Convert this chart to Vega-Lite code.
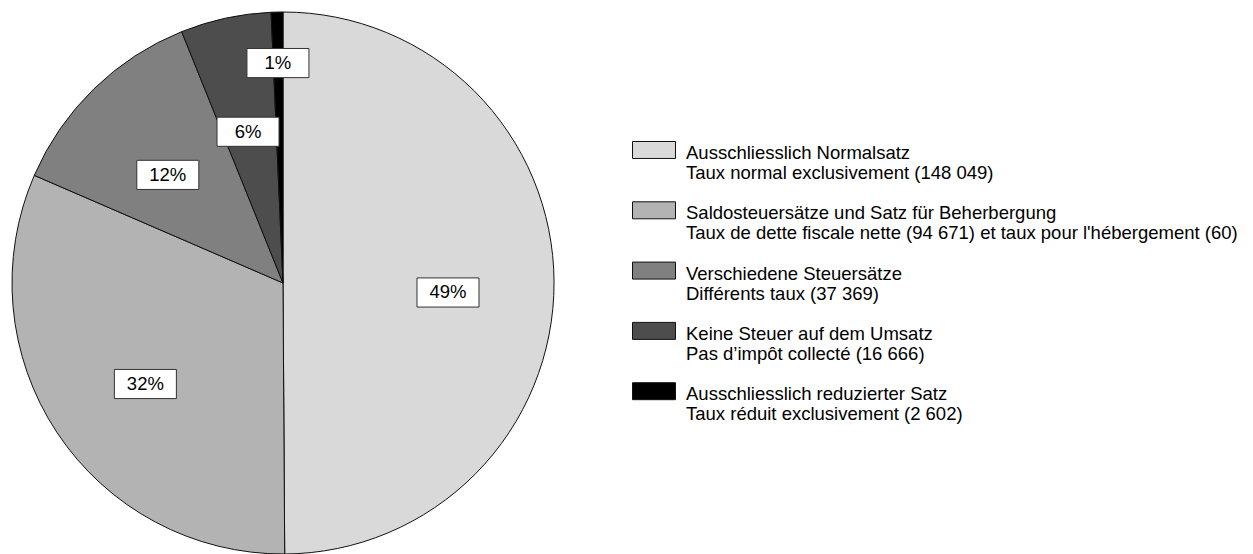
{
  "$schema": "https://vega.github.io/schema/vega-lite/v6.json",
  "width": 542,
  "height": 542,
  "autosize": "none",
  "padding": {"left": 12, "top": 12, "right": 699, "bottom": 0},
  "background": "white",
  "data": {
    "values": [
      {"order": 1, "key": "Ausschliesslich Normalsatz|Taux normal exclusivement (148 049)", "count": 148049, "share": 49.9, "pct": "49%"},
      {"order": 2, "key": "Saldosteuersätze und Satz für Beherbergung|Taux de dette fiscale nette (94 671) et taux pour l'hébergement (60)", "count": 94731, "share": 31.6, "pct": "32%"},
      {"order": 3, "key": "Verschiedene Steuersätze|Différents taux (37 369)", "count": 37369, "share": 12.4, "pct": "12%"},
      {"order": 4, "key": "Keine Steuer auf dem Umsatz|Pas d’impôt collecté (16 666)", "count": 16666, "share": 5.4, "pct": "6%"},
      {"order": 5, "key": "Ausschliesslich reduzierter Satz|Taux réduit exclusivement (2 602)", "count": 2602, "share": 0.7, "pct": "1%"}
    ]
  },
  "layer": [
    {
      "mark": {"type": "arc", "stroke": "#111111", "strokeWidth": 1, "outerRadius": 271},
      "encoding": {
        "theta": {"field": "share", "type": "quantitative", "stack": true},
        "order": {"field": "order", "type": "quantitative"},
        "color": {
          "field": "key",
          "type": "nominal",
          "scale": {
            "domain": [
              "Ausschliesslich Normalsatz|Taux normal exclusivement (148 049)",
              "Saldosteuersätze und Satz für Beherbergung|Taux de dette fiscale nette (94 671) et taux pour l'hébergement (60)",
              "Verschiedene Steuersätze|Différents taux (37 369)",
              "Keine Steuer auf dem Umsatz|Pas d’impôt collecté (16 666)",
              "Ausschliesslich reduzierter Satz|Taux réduit exclusivement (2 602)"
            ],
            "range": ["#d9d9d9", "#b3b3b3", "#808080", "#4d4d4d", "#000000"]
          },
          "legend": {
            "orient": "none",
            "legendX": 620,
            "legendY": 119,
            "title": null,
            "padding": 0,
            "symbolType": "M-1,-0.535H1V0.255H-1Z",
            "symbolSize": 1849,
            "symbolStrokeColor": "#111111",
            "symbolStrokeWidth": 1,
            "symbolOpacity": 1,
            "labelFont": "Liberation Sans",
            "labelFontSize": 18.5,
            "labelColor": "#000000",
            "labelLimit": 0,
            "labelOffset": 10,
            "rowPadding": 8.3,
            "labelExpr": "split(datum.label, '|')"
          }
        }
      }
    },
    {
      "transform": [
        {"joinaggregate": [{"op": "sum", "field": "share", "as": "total"}]},
        {"window": [{"op": "sum", "field": "share", "as": "cum"}], "sort": [{"field": "order"}], "frame": [null, 0]},
        {"calculate": "(datum.cum - datum.share / 2) / datum.total * 2 * PI", "as": "mid"},
        {"calculate": "datum.share / datum.total < 0.03 ? 230 : 165", "as": "r"},
        {"calculate": "datum.r * sin(datum.mid)", "as": "lx"},
        {"calculate": "datum.r * cos(datum.mid) - 10", "as": "ly"}
      ],
      "layer": [
        {
          "mark": {"type": "point", "shape": "M-1,-0.47H1V0.47H-1Z", "size": 3844, "filled": true, "fill": "white", "stroke": "#333333", "strokeWidth": 1, "opacity": 1},
          "encoding": {
            "x": {"field": "lx", "type": "quantitative", "scale": {"domain": [-271, 271], "nice": false, "zero": false}, "axis": null},
            "y": {"field": "ly", "type": "quantitative", "scale": {"domain": [-271, 271], "nice": false, "zero": false}, "axis": null}
          }
        },
        {
          "mark": {"type": "text", "font": "Liberation Sans", "fontSize": 18.5, "color": "#000000", "baseline": "middle", "align": "center"},
          "encoding": {
            "x": {"field": "lx", "type": "quantitative"},
            "y": {"field": "ly", "type": "quantitative"},
            "text": {"field": "pct", "type": "nominal"}
          }
        }
      ]
    }
  ],
  "config": {
    "view": {"stroke": null},
    "style": {"guide-label": {"lineHeight": 20}}
  }
}
